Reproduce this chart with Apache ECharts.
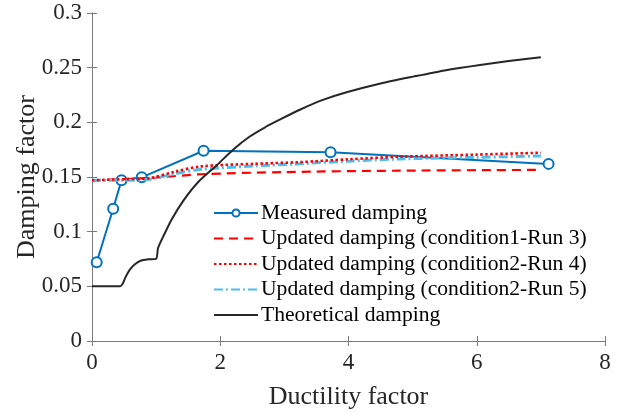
<!DOCTYPE html>
<html>
<head>
<meta charset="utf-8">
<script src="https://cdn.jsdelivr.net/npm/echarts@6/dist/echarts.min.js"></script>
<style>html,body{margin:0;padding:0;background:#fff}#c{width:619px;height:412px}</style>
</head>
<body>
<div id="c"></div>
<script>
// Measured damping (ductility, damping)
const measuredX = [0.073, 0.33, 0.46, 0.775, 1.74, 3.72, 7.12];
const measuredY = [0.072, 0.121, 0.147, 0.1497, 0.174, 0.1726, 0.162];
// Updated damping (condition1-Run 3)
const run3X = [0, 0.5, 1.0, 1.7, 3.0, 4.8, 7.0];
const run3Y = [0.147, 0.148, 0.1495, 0.1525, 0.1545, 0.1558, 0.1565];
// Updated damping (condition2-Run 4)
const run4X = [0, 0.5, 0.9, 1.3, 1.7, 2.5, 3.2, 4.0, 4.8, 6.0, 7.0];
const run4Y = [0.147, 0.148, 0.149, 0.155, 0.1597, 0.162, 0.1635, 0.1662, 0.1685, 0.1705, 0.1722];
// Updated damping (condition2-Run 5)
const run5X = [0, 0.5, 0.9, 1.3, 1.7, 2.5, 3.2, 4.0, 4.8, 6.0, 7.0];
const run5Y = [0.147, 0.147, 0.148, 0.153, 0.157, 0.16, 0.162, 0.1645, 0.1665, 0.168, 0.1693];
// Theoretical damping
const theoX = [0, 0.44, 0.48, 0.52, 0.56, 0.6, 0.66, 0.75, 0.88, 1.0, 1.03, 1.11, 1.24, 1.42, 1.65, 1.95, 2.2, 2.46, 2.7, 2.93, 3.24, 3.6, 3.97, 4.5, 5.01, 5.5, 6.05, 6.5, 7.0];
const theoY = [0.05, 0.05, 0.0525, 0.058, 0.0625, 0.066, 0.0698, 0.0732, 0.0747, 0.0752, 0.085, 0.0955, 0.111, 0.128, 0.145, 0.161, 0.175, 0.187, 0.1955, 0.2025, 0.2115, 0.2205, 0.2275, 0.2355, 0.2418, 0.2475, 0.2525, 0.256, 0.2596];

const seriesNames = ['Measured damping', 'Updated damping (condition1-Run 3)', 'Updated damping (condition2-Run 4)', 'Updated damping (condition2-Run 5)', 'Theoretical damping'];
const xTicks = [0, 2, 4, 6, 8];
const yTicks = [0, 0.05, 0.1, 0.15, 0.2, 0.25, 0.3];

const zip = (xs, ys) => xs.map((x, i) => [x, ys[i]]);
const FONT = 'Liberation Serif';
const AX = '#7a7a7a';

const chart = echarts.init(document.getElementById('c'), null, {renderer: 'canvas'});
const baseAxis = {
  axisLine: {show: true, lineStyle: {color: AX, width: 1}},
  axisTick: {show: true, inside: true, length: 5, lineStyle: {color: AX}},
  splitLine: {show: false}
};
chart.setOption({
  animation: false,
  backgroundColor: '#fff',
  textStyle: {fontFamily: FONT},
  grid: {left: 92, top: 13, right: 14, bottom: 71, containLabel: false, outerBoundsMode: 'none'},
  xAxis: [
    Object.assign({}, baseAxis, {
      type: 'value', min: xTicks[0], max: xTicks[xTicks.length - 1], interval: 2, position: 'bottom',
      axisLabel: {color: '#262626', fontFamily: FONT, fontSize: 23, margin: 10,
        formatter: v => String(+v.toFixed(2))},
      name: 'Ductility factor', nameLocation: 'middle', nameGap: 43, nameMoveOverlap: false,
      nameTextStyle: {color: '#262626', fontFamily: FONT, fontSize: 26}
    }),
    Object.assign({}, baseAxis, {
      type: 'value', min: xTicks[0], max: xTicks[xTicks.length - 1], interval: 2, position: 'top',
      axisLabel: {show: false}
    })
  ],
  yAxis: [
    Object.assign({}, baseAxis, {
      type: 'value', min: yTicks[0], max: yTicks[yTicks.length - 1], interval: 0.05, position: 'left',
      axisLabel: {color: '#262626', fontFamily: FONT, fontSize: 23, margin: 10,
        formatter: v => String(+v.toFixed(2))},
      name: 'Damping factor', nameLocation: 'middle', nameGap: 52, nameMoveOverlap: false,
      nameTextStyle: {color: '#262626', fontFamily: FONT, fontSize: 26}
    }),
    Object.assign({}, baseAxis, {
      type: 'value', min: yTicks[0], max: yTicks[yTicks.length - 1], interval: 0.05, position: 'right',
      axisLabel: {show: false}
    })
  ],
  legend: {
    orient: 'vertical', left: 208, top: 197,
    itemWidth: 44, itemHeight: 9, itemGap: 3.5,
    textStyle: {fontFamily: FONT, fontSize: 21.6, color: '#000', lineHeight: 22, padding: [0, 0, 0, -2]},
    data: [
      {name: seriesNames[0]},
      {name: seriesNames[1], itemStyle: {opacity: 0}},
      {name: seriesNames[2], itemStyle: {opacity: 0}},
      {name: seriesNames[3], itemStyle: {opacity: 0}},
      {name: seriesNames[4], itemStyle: {opacity: 0}}
    ]
  },
  series: [
    {
      name: seriesNames[0], type: 'line', data: zip(measuredX, measuredY),
      symbol: 'emptyCircle', symbolSize: 10,
      lineStyle: {color: '#0072BD', width: 2},
      itemStyle: {color: '#0072BD', borderWidth: 2, borderColor: '#0072BD'},
      z: 2
    },
    {
      name: seriesNames[1], type: 'line', data: zip(run3X, run3Y), symbol: 'none', smooth: 0.3,
      lineStyle: {color: '#FF0000', width: 2.2, type: [9, 6]}, itemStyle: {color: '#FF0000'}, z: 3
    },
    {
      name: seriesNames[2], type: 'line', data: zip(run4X, run4Y), symbol: 'none', smooth: 0.3,
      lineStyle: {color: '#FF0000', width: 2.6, type: [2.5, 2.5]}, itemStyle: {color: '#FF0000'}, z: 4
    },
    {
      name: seriesNames[3], type: 'line', data: zip(run5X, run5Y), symbol: 'none', smooth: 0.3,
      lineStyle: {color: '#4DBEEE', width: 3, type: [9, 3, 2, 3]}, itemStyle: {color: '#4DBEEE'}, z: 3
    },
    {
      name: seriesNames[4], type: 'line', data: zip(theoX, theoY), symbol: 'none',
      smooth: 0.25,
      lineStyle: {color: '#262626', width: 2}, itemStyle: {color: '#262626'}, z: 5
    }
  ]
});
</script>
</body>
</html>
